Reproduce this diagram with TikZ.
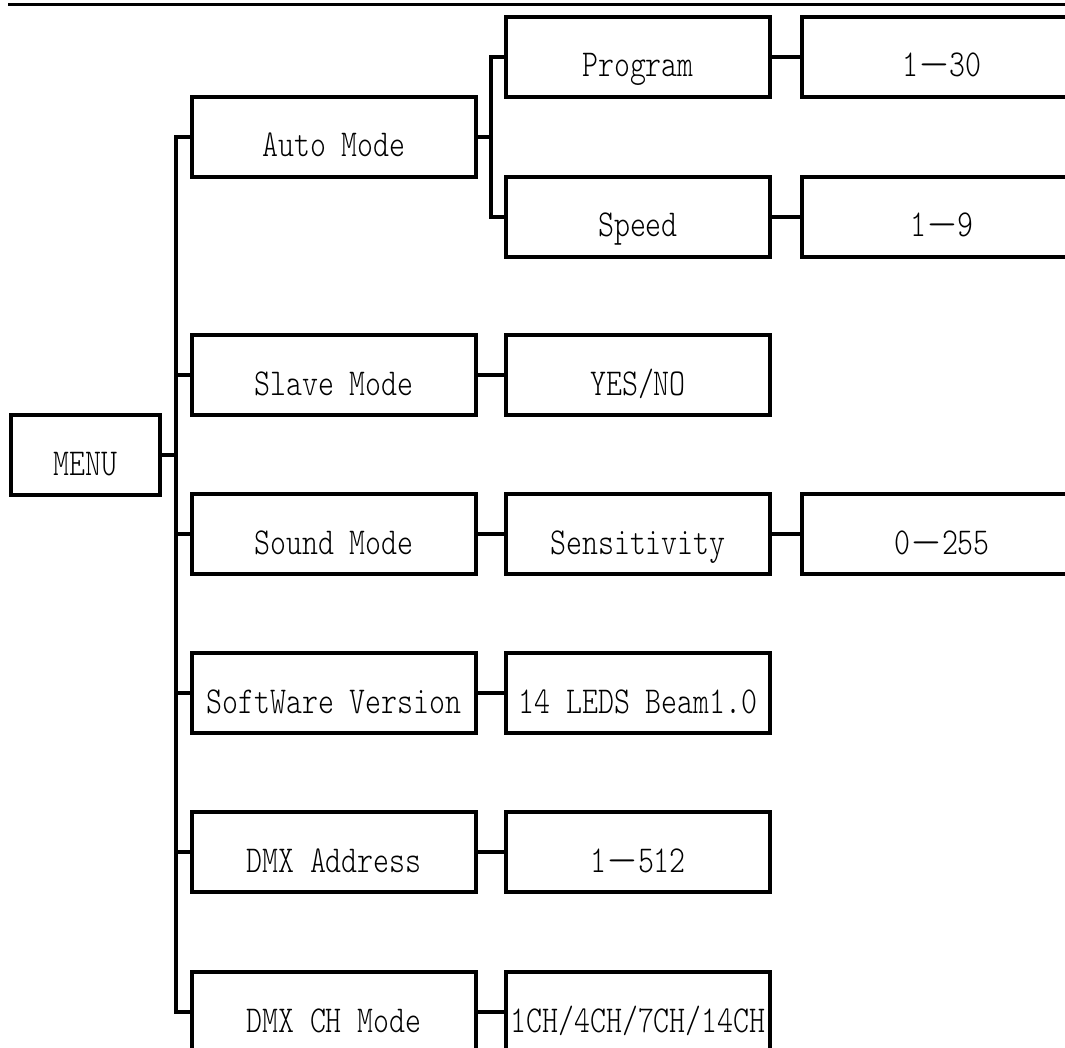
\documentclass[tikz,border=0pt]{standalone}
\usepackage{fontspec}
\setmonofont[FakeStretch=0.8]{lmmonolt10-regular.otf}
\usepackage{tikz}

\newcommand{\wdash}{\scalebox{2}[1]{—}}

\begin{document}
\begin{tikzpicture}[x=1pt, y=-1pt,
    box/.style={draw, line width=4pt, inner sep=0pt, minimum height=80pt,
        text height=40pt, text depth=0pt, font=\ttfamily\fontsize{38}{38}\selectfont},
    lvla/.style={box, minimum width=284pt},
    lvlb/.style={box, minimum width=264pt},
    lvlc/.style={box, minimum width=280pt},
    link/.style={line width=4pt}]
    \useasboundingbox (0,0) rectangle (1065,1048);
    \clip (0,0) rectangle (1065,1048);
    \fill[white] (0,0) rectangle (1065,1048);
    \draw[line width=3pt] (8,5) -- (1065,5);

    \node[box, minimum width=149pt] (menu) at (85.5,455) {MENU};

    \node[lvla] (auto) at (334,137) {Auto Mode};
    \node[lvla] (slave) at (334,375) {Slave Mode};
    \node[lvla] (sound) at (334,534) {Sound Mode};
    \node[lvla] (soft) at (334,693) {SoftWare Version};
    \node[lvla] (dmx) at (334,852) {DMX Address};
    \node[lvla] (chmode) at (334,1012) {DMX CH Mode};

    \node[lvlb] (prog) at (638,57) {Program};
    \node[lvlb] (speed) at (638,217) {Speed};
    \node[lvlb] (yesno) at (638,375) {YES/NO};
    \node[lvlb] (sens) at (638,534) {Sensitivity};
    \node[lvlb] (leds) at (638,693) {14 LEDS Beam1.0};
    \node[lvlb] (addr) at (638,852) {1\wdash512};
    \node[lvlb] (chsel) at (638,1012) {1CH/4CH/7CH/14CH};

    \node[lvlc] (progval) at (942,57) {1\wdash30};
    \node[lvlc] (speedval) at (942,217) {1\wdash9};
    \node[lvlc] (sensval) at (942,534) {0\wdash255};

    \coordinate (trunk) at (176,0);
    \coordinate (fork) at (491,0);

    \draw[link] (menu.east) -- (menu.east -| trunk);
    \draw[link] (auto.west) -- (auto.west -| trunk) -- (chmode.west -| trunk) -- (chmode.west);
    \draw[link] (slave.west) -- (slave.west -| trunk);
    \draw[link] (sound.west) -- (sound.west -| trunk);
    \draw[link] (soft.west) -- (soft.west -| trunk);
    \draw[link] (dmx.west) -- (dmx.west -| trunk);

    \draw[link] (auto.east) -- (auto.east -| fork);
    \draw[link] (prog.west) -- (prog.west -| fork) -- (speed.west -| fork) -- (speed.west);

    \draw[link] (prog) -- (progval);
    \draw[link] (speed) -- (speedval);
    \draw[link] (slave) -- (yesno);
    \draw[link] (sound) -- (sens);
    \draw[link] (sens) -- (sensval);
    \draw[link] (soft) -- (leds);
    \draw[link] (dmx) -- (addr);
    \draw[link] (chmode) -- (chsel);
\end{tikzpicture}
\end{document}
